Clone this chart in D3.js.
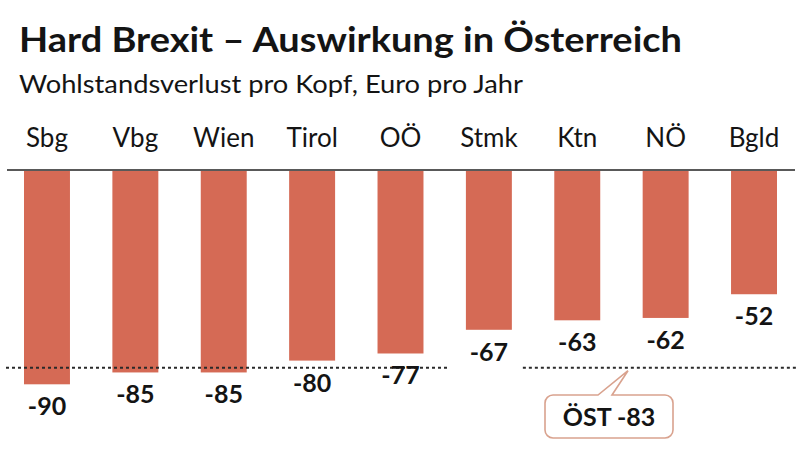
<!DOCTYPE html>
<html>
<head>
<meta charset="utf-8">
<script src="https://cdn.jsdelivr.net/npm/d3@7"></script>
<style>
  html, body { margin: 0; padding: 0; background: #fff; }
  svg { display: block; }
  text { font-family: Lato, "Open Sans", sans-serif; fill: #141414; }
</style>
</head>
<body>
<svg id="chart" width="800" height="452"></svg>
<script>
const titleText = "Hard Brexit – Auswirkung in Österreich";
const subtitleText = "Wohlstandsverlust pro Kopf, Euro pro Jahr";
const categories = ["Sbg", "Vbg", "Wien", "Tirol", "OÖ", "Stmk", "Ktn", "NÖ", "Bgld"];
const values = [-90, -85, -85, -80, -77, -67, -63, -62, -52];
const averageLabel = "ÖST";
const averageValue = -83;

const svg = d3.select("#chart");

const x = d3.scaleBand().domain(categories).range([24, 777]).paddingInner(0.48).paddingOuter(0);
const y = d3.scaleLinear().domain([0, -100]).range([171, 408]);

// Title & subtitle
svg.append("text").attr("x", 19).attr("y", 52)
  .attr("font-size", 35).attr("font-weight", 700)
  .attr("textLength", 663).attr("lengthAdjust", "spacingAndGlyphs")
  .text(titleText);
svg.append("text").attr("x", 19).attr("y", 93)
  .attr("font-size", 25).attr("font-weight", 400)
  .attr("textLength", 504).attr("lengthAdjust", "spacingAndGlyphs")
  .text(subtitleText);

// Category labels
svg.append("g").selectAll("text").data(categories).join("text")
  .attr("x", d => x(d) + x.bandwidth() / 2)
  .attr("y", 147)
  .attr("text-anchor", "middle")
  .attr("font-size", 26)
  .text(d => d);

// Bars
const data = categories.map((c, i) => ({c, v: values[i]}));
svg.append("g").selectAll("rect").data(data).join("rect")
  .attr("x", d => x(d.c))
  .attr("y", y(0))
  .attr("width", x.bandwidth())
  .attr("height", d => y(d.v) - y(0))
  .attr("fill", "#d56a55");

// Baseline
svg.append("line").attr("x1", 7).attr("x2", 795)
  .attr("y1", y(0) - 1).attr("y2", y(0) - 1)
  .attr("stroke", "#222").attr("stroke-width", 1.6);

// Average dashed line (two segments around the Stmk label)
const avgY = y(averageValue);
const stmkX = x("Stmk");
[[6, stmkX - 18], [stmkX + x.bandwidth() + 11, 797]].forEach(([a, b]) => {
  svg.append("line").attr("x1", a).attr("x2", b)
    .attr("y1", avgY).attr("y2", avgY)
    .attr("stroke", "#2a2a2a").attr("stroke-width", 2)
    .attr("stroke-dasharray", "3,3");
});

// Value labels
svg.append("g").selectAll("text").data(data).join("text")
  .attr("x", d => x(d.c) + x.bandwidth() / 2)
  .attr("y", d => y(d.v) + 31)
  .attr("text-anchor", "middle")
  .attr("font-size", 25)
  .attr("font-weight", 700)
  .text(d => d.v);

// Callout
const bx = 545, by = 395, bw = 128, bh = 43, r = 8;
const tipX = 628, tipY = avgY + 3, baseL = 598, baseR = 612;
const p = d3.path();
p.moveTo(bx + r, by);
p.lineTo(baseL, by);
p.lineTo(tipX, tipY);
p.lineTo(baseR, by);
p.lineTo(bx + bw - r, by);
p.arcTo(bx + bw, by, bx + bw, by + r, r);
p.lineTo(bx + bw, by + bh - r);
p.arcTo(bx + bw, by + bh, bx + bw - r, by + bh, r);
p.lineTo(bx + r, by + bh);
p.arcTo(bx, by + bh, bx, by + bh - r, r);
p.lineTo(bx, by + r);
p.arcTo(bx, by, bx + r, by, r);
p.closePath();
svg.append("path").attr("d", p.toString())
  .attr("fill", "#fff").attr("stroke", "#d9a28e").attr("stroke-width", 1.6);
svg.append("text").attr("x", bx + bw / 2).attr("y", 426)
  .attr("text-anchor", "middle").attr("font-size", 25).attr("font-weight", 700)
  .text(averageLabel + " " + averageValue);
</script>
</body>
</html>
